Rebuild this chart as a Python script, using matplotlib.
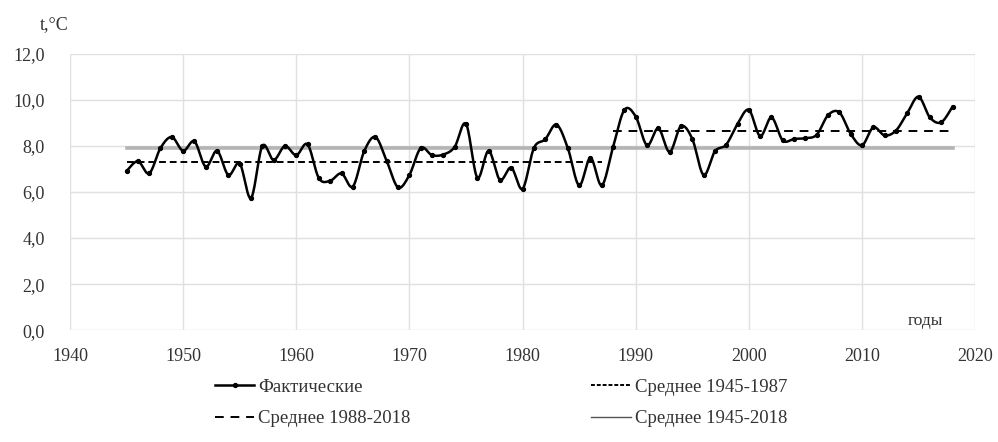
import matplotlib
matplotlib.use("Agg")
import matplotlib.pyplot as plt
import numpy as np
from matplotlib.ticker import FuncFormatter, MultipleLocator
from matplotlib.lines import Line2D

plt.rcParams['font.family'] = ['Liberation Serif', 'DejaVu Serif']

years = list(range(1945, 2019))
temps = [
    6.91, 7.34, 6.81, 7.91, 8.39, 7.79, 8.20, 7.10, 7.79, 6.74,   # 1945-1954
    7.24, 5.74, 8.00, 7.39, 8.00, 7.60, 8.07, 6.60, 6.49, 6.81,   # 1955-1964
    6.24, 7.77, 8.39, 7.34, 6.20, 6.74, 7.91, 7.60, 7.63, 7.96,   # 1965-1974
    8.96, 6.63, 7.79, 6.53, 7.06, 6.14, 7.91, 8.29, 8.93, 7.91,   # 1975-1984
    6.29, 7.49, 6.29, 7.96, 9.57, 9.28, 8.03, 8.77, 7.74, 8.86,   # 1985-1994
    8.31, 6.74, 7.77, 8.06, 8.96, 9.57, 8.43, 9.24, 8.24, 8.31,   # 1995-2004
    8.34, 8.49, 9.34, 9.46, 8.53, 8.03, 8.81, 8.46, 8.67, 9.43,   # 2005-2014
    10.14, 9.24, 9.03, 9.71,                                       # 2015-2018
]

mean_1945_1987 = 7.31
mean_1988_2018 = 8.64
mean_1945_2018 = 7.91


def smooth_curve(x, y, steps=16):
    """Cardinal (Catmull-Rom) spline through the points, as a dense polyline."""
    x = np.asarray(x, float)
    y = np.asarray(y, float)
    px = np.concatenate([[x[0]], x, [x[-1]]])
    py = np.concatenate([[y[0]], y, [y[-1]]])
    t = np.linspace(0, 1, steps, endpoint=False)
    xs, ys = [], []
    for i in range(1, len(px) - 2):
        x0, x1, x2, x3 = px[i - 1:i + 3]
        y0, y1, y2, y3 = py[i - 1:i + 3]
        c1x, c1y = x1 + (x2 - x0) / 6, y1 + (y2 - y0) / 6
        c2x, c2y = x2 - (x3 - x1) / 6, y2 - (y3 - y1) / 6
        b0 = (1 - t) ** 3
        b1 = 3 * (1 - t) ** 2 * t
        b2 = 3 * (1 - t) * t ** 2
        b3 = t ** 3
        xs.append(b0 * x1 + b1 * c1x + b2 * c2x + b3 * x2)
        ys.append(b0 * y1 + b1 * c1y + b2 * c2y + b3 * y2)
    xs.append([x[-1]])
    ys.append([y[-1]])
    return np.concatenate(xs), np.concatenate(ys)


fig = plt.figure(figsize=(9.98, 4.42), dpi=100)
ax = fig.add_axes([0.0701, 0.253, 0.907, 0.625])

ax.plot([1945, 2018], [mean_1945_2018] * 2, color='#b4b4b4', lw=2.6, zorder=2)
ax.plot([1945, 1987], [mean_1945_1987] * 2, color='black', lw=1.4,
        dashes=(3.5, 2.0), zorder=3)
ax.plot([1988, 2018], [mean_1988_2018] * 2, color='black', lw=1.4,
        dashes=(4.5, 3.5), zorder=3)
sx, sy = smooth_curve(years, temps)
ax.plot(sx, sy, color='black', lw=1.8, zorder=4, solid_joinstyle='round')
ax.plot(years, temps, linestyle='none', marker='o', ms=2.8, color='black', zorder=5)

ax.set_xlim(1940, 2020)
ax.set_ylim(0, 12)
ax.xaxis.set_major_locator(MultipleLocator(10))
ax.yaxis.set_major_locator(MultipleLocator(2))
ax.yaxis.set_major_formatter(FuncFormatter(lambda v, p: f"{v:.1f}".replace('.', ',')))
ax.grid(True, color='#e0e0e0', lw=1.0, zorder=0)
for s in ax.spines.values():
    s.set_visible(False)
ax.tick_params(axis='x', length=0, labelsize=13, colors='#333333', pad=13)
ax.tick_params(axis='y', length=0, labelsize=13, colors='#333333', pad=18)

fig.text(0.040, 0.935, 't,°C', fontsize=13, color='#333333')
ax.text(2015.6, 0.38, 'годы', fontsize=12.5, color='#333333', ha='center', va='center')

handles = [
    Line2D([], [], color='black', lw=1.8, marker='o', ms=2.8),
    Line2D([], [], color='black', lw=1.4, dashes=(4.5, 3.5)),
    Line2D([], [], color='black', lw=1.4, dashes=(2.0, 1.0)),
    Line2D([], [], color='#555555', lw=1.0),
]
labels = ['Фактические', 'Среднее 1988-2018', 'Среднее 1945-1987', 'Среднее 1945-2018']
leg = fig.legend(handles, labels, loc='upper left', bbox_to_anchor=(0.2154, 0.143),
                 ncol=2, frameon=False, fontsize=13.5, columnspacing=9.65,
                 handlelength=2.1, handletextpad=0.2, labelspacing=0.75,
                 borderpad=0, borderaxespad=0)
for t in leg.get_texts():
    t.set_color('#333333')

fig.savefig('out.png', dpi=100)
